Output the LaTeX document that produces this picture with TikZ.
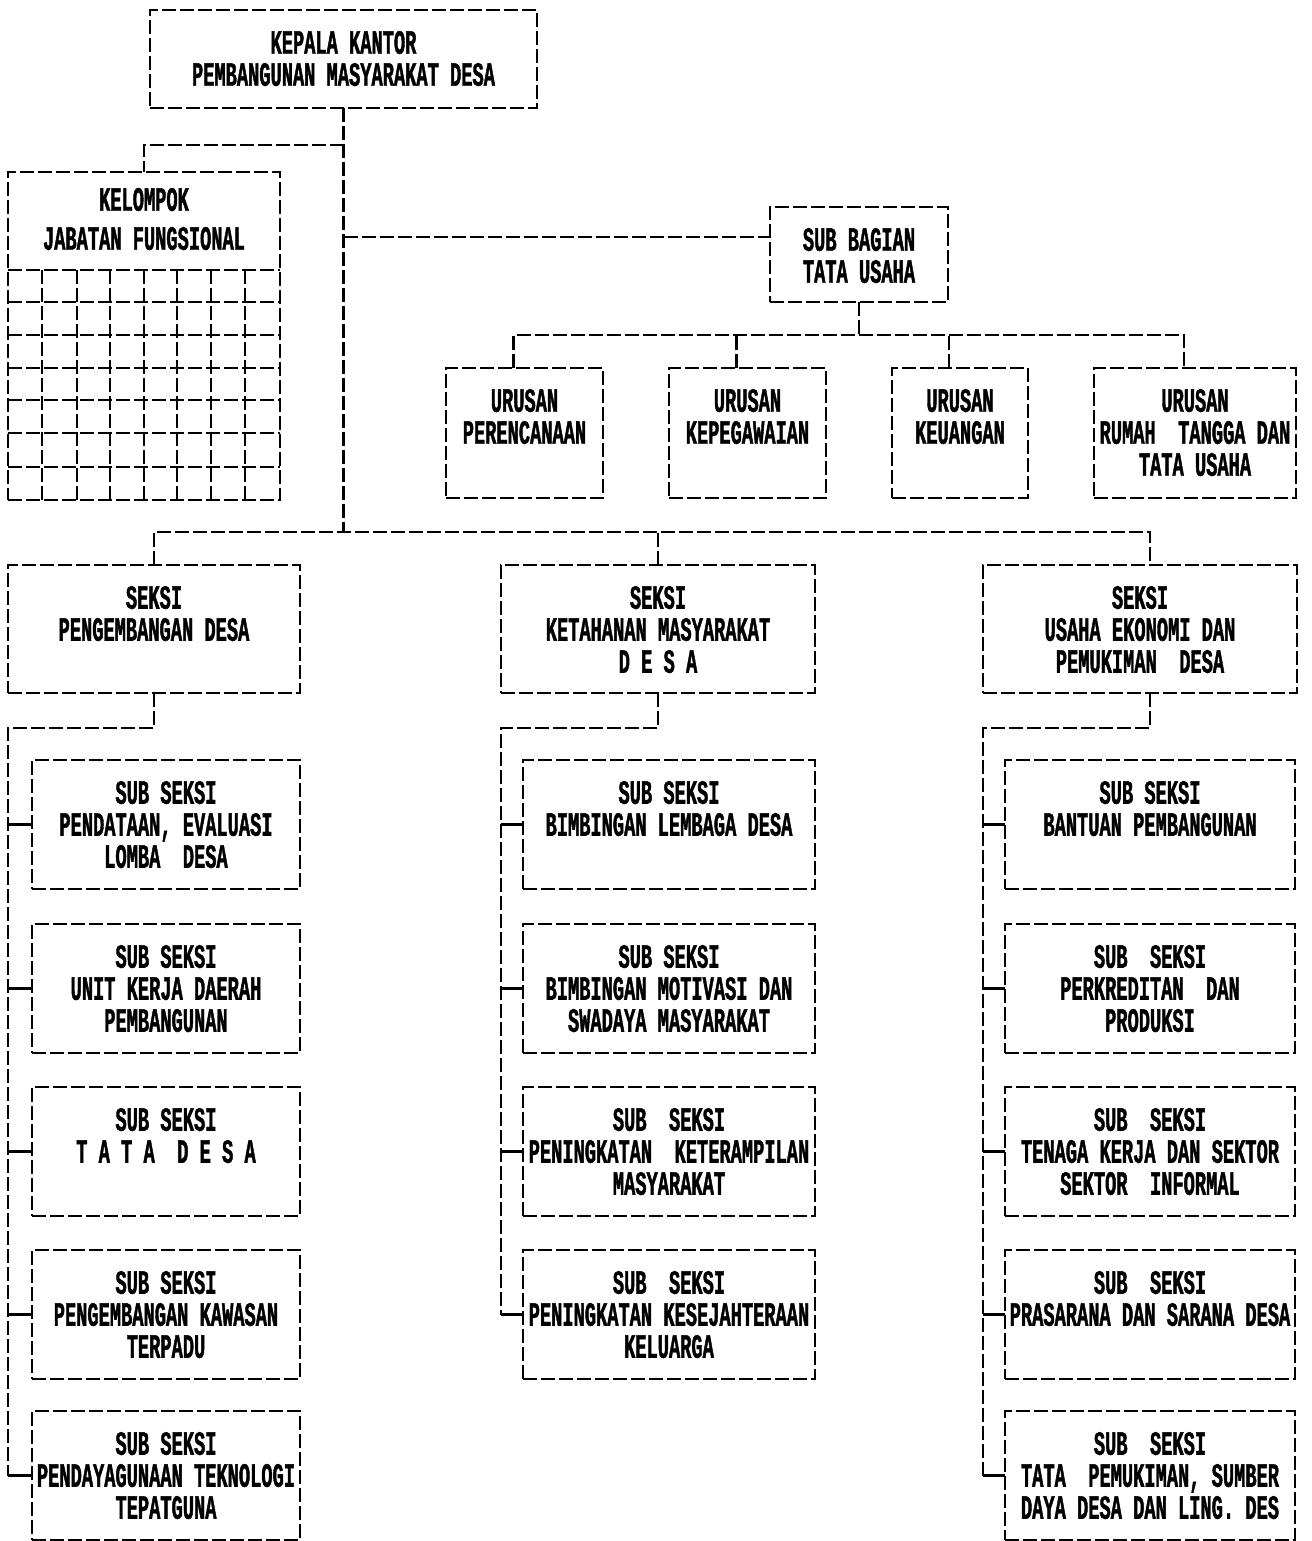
\documentclass[tikz,border=0pt]{standalone}
\usepackage{fontspec}
\newfontfamily\chartfont{Liberation Mono Bold}[FakeStretch=0.55,FakeBold=1.2]
\newcommand\orgbox[6]{%
  \node[boxn, anchor=north west, minimum width={(#4)-(#2)}, minimum height={(#5)-(#3)}] (#1) at (#2,#3) {};
  \node[txt, anchor=north] (#1t) at ([yshift=-21pt]#1.north) {#6};}
\begin{document}
\begin{tikzpicture}[x=1pt,y=-1pt,
  ln/.style={line width=2.2pt, dash pattern=on 14pt off 4pt},
  stub/.style={line width=2.2pt},
  boxn/.style={ln, draw, rectangle, inner sep=0pt, outer sep=0pt},
  txt/.style={font=\chartfont\fontsize{34}{32}\selectfont, align=center, inner sep=0pt, outer sep=0pt}]
\fill[white] (0,0) rectangle (1311,1541);
\useasboundingbox (0,0) rectangle (1311,1541);

% top level
\orgbox{kepala}{150}{10}{537}{108}{KEPALA KANTOR\\PEMBANGUNAN MASYARAKAT DESA}
\node[boxn, anchor=north west, minimum width=272pt, minimum height=328pt] (kelompok) at (8,172) {};
\node[txt, anchor=north] (kelompokt) at ([yshift=-16pt]kelompok.north) {KELOMPOK\\[7pt]JABATAN FUNGSIONAL};
\foreach \yy in {270,302,335,368,400,433,467} \draw[ln] (8,\yy) -- (280,\yy);
\foreach \xx in {42,77,110,144,177,211,245} \draw[ln] (\xx,270) -- (\xx,500);
\orgbox{subbag}{770}{207}{948}{302}{SUB BAGIAN\\TATA USAHA}

% urusan
\orgbox{u1}{446}{368}{603}{498}{URUSAN\\PERENCANAAN}
\orgbox{u2}{669}{368}{826}{498}{URUSAN\\KEPEGAWAIAN}
\orgbox{u3}{892}{368}{1028}{498}{URUSAN\\KEUANGAN}
\orgbox{u4}{1094}{368}{1296}{498}{URUSAN\\RUMAH~ TANGGA DAN\\TATA USAHA}

% seksi
\orgbox{s1}{8}{565}{300}{693}{SEKSI\\PENGEMBANGAN DESA}
\orgbox{s2}{501}{565}{815}{693}{SEKSI\\KETAHANAN MASYARAKAT\\D E S A}
\orgbox{s3}{983}{565}{1297}{693}{SEKSI\\USAHA EKONOMI DAN\\PEMUKIMAN~ DESA}

% sub seksi left
\orgbox{a1}{32}{760}{300}{889}{SUB SEKSI\\PENDATAAN, EVALUASI\\LOMBA~ DESA}
\orgbox{a2}{32}{924}{300}{1053}{SUB SEKSI\\UNIT KERJA DAERAH\\PEMBANGUNAN}
\orgbox{a3}{32}{1087}{300}{1216}{SUB SEKSI\\T A T A~ D E S A}
\orgbox{a4}{32}{1250}{300}{1379}{SUB SEKSI\\PENGEMBANGAN KAWASAN\\TERPADU}
\orgbox{a5}{32}{1411}{300}{1540}{SUB SEKSI\\PENDAYAGUNAAN TEKNOLOGI\\TEPATGUNA}

% sub seksi middle
\orgbox{b1}{523}{760}{815}{889}{SUB SEKSI\\BIMBINGAN LEMBAGA DESA}
\orgbox{b2}{523}{924}{815}{1053}{SUB SEKSI\\BIMBINGAN MOTIVASI DAN\\SWADAYA MASYARAKAT}
\orgbox{b3}{523}{1087}{815}{1216}{SUB~ SEKSI\\PENINGKATAN~ KETERAMPILAN\\MASYARAKAT}
\orgbox{b4}{523}{1250}{815}{1379}{SUB~ SEKSI\\PENINGKATAN KESEJAHTERAAN\\KELUARGA}

% sub seksi right
\orgbox{c1}{1005}{760}{1295}{889}{SUB SEKSI\\BANTUAN PEMBANGUNAN}
\orgbox{c2}{1005}{924}{1295}{1053}{SUB~ SEKSI\\PERKREDITAN~ DAN\\PRODUKSI}
\orgbox{c3}{1005}{1087}{1295}{1216}{SUB~ SEKSI\\TENAGA KERJA DAN SEKTOR\\SEKTOR~ INFORMAL}
\orgbox{c4}{1005}{1250}{1295}{1379}{SUB~ SEKSI\\PRASARANA DAN SARANA DESA}
\orgbox{c5}{1005}{1411}{1295}{1540}{SUB~ SEKSI\\TATA~ PEMUKIMAN, SUMBER\\DAYA DESA DAN LING. DES}

% connectors
\coordinate (jA) at (343.5,145);
\coordinate (jB) at (343.5,237);
\coordinate (jC) at (343.5,532);
\coordinate (jU) at (859,335);
\draw[ln] (kepala.south) -- (jC);
\draw[ln] (jA) -| (kelompok.north);
\draw[ln] (jB) -- (jB -| subbag.west);
\draw[ln] (s1.north) |- ([xshift=10pt]s3.north |- jC) -- ([xshift=10pt]s3.north);
\draw[ln] (s2.north) -- (s2.north |- jC);
\draw[ln] (subbag.south) -- (jU);
\draw[ln] ([xshift=-11pt]u1.north) |- ([xshift=-11pt]u4.north |- jU) -- ([xshift=-11pt]u4.north);
\draw[ln] ([xshift=-11pt]u2.north) -- ([xshift=-11pt]u2.north |- jU);
\draw[ln] ([xshift=-11pt]u3.north) -- ([xshift=-11pt]u3.north |- jU);

\draw[ln] (s1.south) -- ++(0,35) -| (s1.west |- a5.west);
\foreach \n in {a1,a2,a3,a4,a5} \draw[stub] (\n.west) -- (\n.west -| s1.west);
\draw[ln] (s2.south) -- ++(0,35) -| (s2.west |- b4.west);
\foreach \n in {b1,b2,b3,b4} \draw[stub] (\n.west) -- (\n.west -| s2.west);
\draw[ln] ([xshift=10pt]s3.south) -- ++(0,35) -| (s3.west |- c5.west);
\foreach \n in {c1,c2,c3,c4,c5} \draw[stub] (\n.west) -- (\n.west -| s3.west);
\end{tikzpicture}
\end{document}
